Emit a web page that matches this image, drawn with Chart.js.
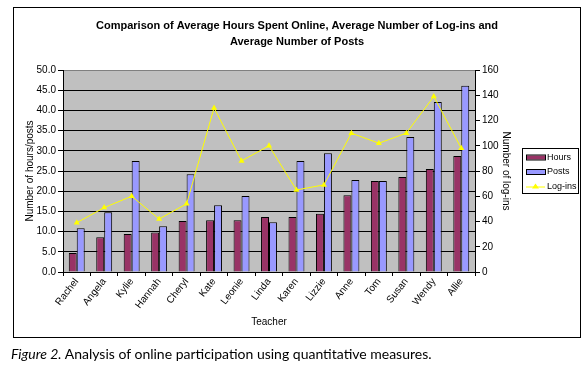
<!DOCTYPE html>
<html>
<head>
<meta charset="utf-8">
<script src="https://cdn.jsdelivr.net/npm/chart.js@4"></script>
<style>
  html, body { margin: 0; padding: 0; background: #fff; }
  #wrap { position: relative; width: 587px; height: 366px; }
  #frame { position: absolute; left: 13px; top: 7px; width: 568px; height: 331px; border: 1px solid #000; box-sizing: border-box; }
  #caption { position: absolute; left: 11px; top: 345px; font: 14px Lato, "Noto Sans", sans-serif; color: #000; white-space: nowrap; }
  canvas { position: absolute; left: 0; top: 0; }
</style>
</head>
<body>
<div id="wrap">
  <div id="frame"></div>
  <canvas id="chart" width="587" height="366"></canvas>
  <div id="caption"><i>Figure 2.</i> Analysis of online participation using quantitative measures.</div>
</div>
<script>
// Chart data
const teachers = ['Rachel', 'Angela', 'Kylie', 'Hannah', 'Cheryl', 'Kate', 'Leonie', 'Linda',
    'Karen', 'Lizzie', 'Anne', 'Tom', 'Susan', 'Wendy', 'Allie'];
const hours = [4.7, 8.6, 9.4, 9.8, 12.6, 12.8, 12.8, 13.6, 13.6, 14.4, 19.0, 22.5, 23.5, 25.5, 28.7];
const posts = [10.8, 14.8, 27.5, 11.3, 24.2, 16.5, 18.8, 12.3, 27.5, 29.4, 22.8, 22.5, 33.4, 42.1, 46.1];
const logins = [39, 51, 60, 42, 54, 130, 88, 100, 65, 69, 110, 102, 110, 139, 98];
const hoursTicks = [0, 5, 10, 15, 20, 25, 30, 35, 40, 45, 50];
const loginTicks = [0, 20, 40, 60, 80, 100, 120, 140, 160];

const font = 'Arial, "Liberation Sans", sans-serif';

// gray plot background
const plotBackground = {
    id: 'plotBackground',
    beforeDraw(chart) {
        const { ctx, chartArea: a } = chart;
        ctx.save();
        ctx.fillStyle = '#c0c0c0';
        ctx.fillRect(a.left, a.top, a.right - a.left, a.bottom - a.top);
        ctx.restore();
    }
};

// boxed legend like the original
const boxLegend = {
    id: 'boxLegend',
    afterDraw(chart) {
        const ctx = chart.ctx;
        const ds = chart.data.datasets;
        const x = 522, y = 148, w = 56, h = 45;
        ctx.save();
        ctx.fillStyle = '#fff';
        ctx.fillRect(x, y, w, h);
        ctx.strokeStyle = '#000';
        ctx.lineWidth = 1;
        ctx.strokeRect(x + 0.5, y + 0.5, w, h);
        ctx.font = '9px ' + font;
        ctx.textBaseline = 'middle';
        const rows = [157.5, 172, 186.5];
        ds.forEach((d, i) => {
            const cy = rows[i];
            if (d.type === 'line') {
                ctx.strokeStyle = d.borderColor;
                ctx.beginPath();
                ctx.moveTo(526, cy + 0.5);
                ctx.lineTo(545, cy + 0.5);
                ctx.stroke();
                ctx.fillStyle = d.borderColor;
                ctx.beginPath();
                ctx.moveTo(535.5, cy - 3);
                ctx.lineTo(539, cy + 2);
                ctx.lineTo(532, cy + 2);
                ctx.closePath();
                ctx.fill();
            } else {
                ctx.fillStyle = d.backgroundColor;
                ctx.fillRect(526, cy - 2, 19, 4);
                ctx.strokeStyle = '#000';
                ctx.strokeRect(526.5, cy - 2.5, 19, 5);
            }
            ctx.fillStyle = '#000';
            ctx.fillText(d.label, 547, cy);
        });
        ctx.restore();
    }
};

const ctx = document.getElementById('chart').getContext('2d');
const chart = new Chart(ctx, {
    type: 'bar',
    data: {
        labels: teachers,
        datasets: [{
            label: 'Hours',
            data: hours,
            backgroundColor: '#993366',
            borderColor: '#000',
            borderWidth: 1,
            yAxisID: 'y',
            order: 1
        }, {
            label: 'Posts',
            data: posts,
            backgroundColor: '#9999ff',
            borderColor: '#000',
            borderWidth: 1,
            yAxisID: 'y',
            order: 1
        }, {
            type: 'line',
            label: 'Log-ins',
            data: logins,
            borderColor: '#ffff00',
            backgroundColor: '#ffff00',
            borderWidth: 1,
            pointStyle: 'triangle',
            pointRadius: 3.5,
            pointBorderWidth: 0,
            yAxisID: 'y1',
            tension: 0,
            order: 0
        }]
    },
    options: {
        responsive: false,
        animation: false,
        events: [],
        datasets: {
            bar: { categoryPercentage: 0.58, barPercentage: 1.0 }
        },
        layout: { padding: { left: 14, right: 7, top: 7, bottom: 34 } },
        plugins: {
            legend: { display: false },
            tooltip: { enabled: false },
            title: {
                display: true,
                text: ['Comparison of Average Hours Spent Online, Average Number of Log-ins and',
                       'Average Number of Posts'],
                color: '#000',
                font: { family: font, size: 11, weight: 'bold', lineHeight: 16 / 11 },
                padding: { top: 11, bottom: 20 }
            }
        },
        scales: {
            x: {
                grid: { drawOnChartArea: false, tickLength: 4, color: '#000', offset: true },
                border: { color: '#000' },
                ticks: {
                    color: '#000', font: { family: font, size: 10 },
                    minRotation: 52, maxRotation: 52, padding: 0, autoSkip: false
                },
                title: {
                    display: true, text: 'Teacher', color: '#000',
                    font: { family: font, size: 10, lineHeight: 1.2 },
                    padding: { top: 0, bottom: 4 }
                },
                afterFit(s) { s.height = 60; }
            },
            y: {
                position: 'left',
                min: 0, max: 50,
                afterBuildTicks(s) { s.ticks = hoursTicks.map(v => ({ value: v })); },
                grid: {
                    color: c => c.tick && c.tick.value === 50 ? '#808080' : '#000',
                    tickColor: '#000',
                    tickLength: 5
                },
                border: { color: '#000' },
                ticks: {
                    color: '#000', font: { family: font, size: 10 }, padding: 2,
                    callback: v => v.toFixed(1)
                },
                title: {
                    display: true, text: 'Number of hours/posts', color: '#000',
                    font: { family: font, size: 10, lineHeight: 1.2 },
                    padding: { top: 10, bottom: 0 }
                },
                afterFit(s) { s.width = 49; }
            },
            y1: {
                position: 'right',
                min: 0, max: 160,
                afterBuildTicks(s) { s.ticks = loginTicks.map(v => ({ value: v })); },
                grid: { drawOnChartArea: false, color: '#000', tickLength: 5 },
                border: { color: '#000' },
                ticks: { color: '#000', font: { family: font, size: 10 }, padding: 2 },
                title: {
                    display: true, text: 'Number of log-ins', color: '#000',
                    font: { family: font, size: 10, lineHeight: 1.2 },
                    padding: { top: 68, bottom: 0 }
                },
                // right axis box also covers the legend area
                afterFit(s) { s.width = 105; }
            }
        }
    },
    plugins: [plotBackground, boxLegend]
});
</script>
</body>
</html>
